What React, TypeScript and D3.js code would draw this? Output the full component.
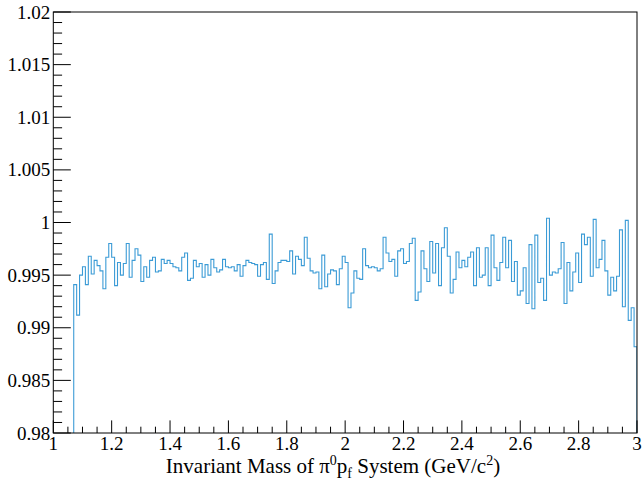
import React from "react";
import * as d3 from "d3";

// Histogram: ratio per 0.01 GeV/c^2 bin, first filled bin starts at 1.07
const binStart = 1.07;
const binWidth = 0.01;
const ratio: number[] = [
  0.9941, 0.9912, 0.995, 0.9958, 0.9941, 0.9968, 0.9951, 0.9964, 0.9959, 0.9954,
  0.9937, 0.9967, 0.998, 0.9967, 0.994, 0.9962, 0.995, 0.9961, 0.998, 0.9948,
  0.9964, 0.9975, 0.9969, 0.9944, 0.9958, 0.9948, 0.9964, 0.9967, 0.9953, 0.9954,
  0.9965, 0.9961, 0.9964, 0.9961, 0.9958, 0.9957, 0.9954, 0.9967, 0.9971, 0.9945,
  0.9947, 0.9964, 0.9958, 0.9961, 0.9948, 0.996, 0.995, 0.9965, 0.9957, 0.9953,
  0.9955, 0.9965, 0.9958, 0.9957, 0.9958, 0.9954, 0.996, 0.9949, 0.9959, 0.9964,
  0.9962, 0.9961, 0.996, 0.9949, 0.996, 0.9962, 0.9946, 0.9989, 0.9942, 0.9954,
  0.9962, 0.9964, 0.9964, 0.9963, 0.9973, 0.9951, 0.9968, 0.9965, 0.9959, 0.9986,
  0.9966, 0.9954, 0.9952, 0.9953, 0.9937, 0.9969, 0.9939, 0.9951, 0.9955, 0.9954,
  0.9941, 0.9956, 0.9968, 0.9962, 0.9919, 0.9933, 0.9954, 0.9947, 0.9946, 0.9975,
  0.9959, 0.9957, 0.9958, 0.9957, 0.9954, 0.9956, 0.9986, 0.9971, 0.9963, 0.9965,
  0.9949, 0.9973, 0.9975, 0.9961, 0.9963, 0.998, 0.9985, 0.9926, 0.9934, 0.9973,
  0.9956, 0.9944, 0.9982, 0.9952, 0.998, 0.994, 0.9976, 0.9995, 0.9968, 0.9933,
  0.9946, 0.9972, 0.9957, 0.9964, 0.9958, 0.9967, 0.9972, 0.994, 0.9976, 0.9948,
  0.995, 0.9976, 0.994, 0.9988, 0.9957, 0.9945, 0.9962, 0.9986, 0.9957, 0.9983,
  0.9944, 0.9963, 0.9931, 0.9935, 0.9957, 0.9923, 0.9979, 0.9918, 0.9988, 0.9943,
  0.9947, 0.9926, 1.0004, 0.995, 0.9953, 0.9952, 0.9956, 0.9981, 0.9923, 0.9962,
  0.9935, 0.9953, 0.9971, 0.9943, 0.9989, 0.9979, 0.9986, 0.9949, 1.0003, 0.9957,
  0.9965, 0.9983, 0.9954, 0.9931, 0.9948, 0.9935, 0.9949, 0.9993, 0.992, 1.0002,
  0.9907, 0.9919, 0.9882,
];

const xTicks = [1, 1.2, 1.4, 1.6, 1.8, 2, 2.2, 2.4, 2.6, 2.8, 3];
const xTickLabels = ["1", "1.2", "1.4", "1.6", "1.8", "2", "2.2", "2.4", "2.6", "2.8", "3"];
const yTicks = [0.98, 0.985, 0.99, 0.995, 1, 1.005, 1.01, 1.015, 1.02];
const yTickLabels = ["0.98", "0.985", "0.99", "0.995", "1", "1.005", "1.01", "1.015", "1.02"];

const W = 644;
const H = 480;
const M = { left: 53.3, right: 7, top: 12, bottom: 47 };
const FONT = "Liberation Serif, Times New Roman, serif";
const LINE = "#3b9bd6";

export default function App() {
  const x = d3.scaleLinear().domain([1, 3]).range([M.left, W - M.right]);
  const y = d3.scaleLinear().domain([0.98, 1.02]).range([H - M.bottom, M.top]);
  const x0 = M.left, x1 = W - M.right, y0 = H - M.bottom, y1 = M.top;

  const pts: [number, number][] = [[binStart, 0.98]];
  ratio.forEach((v, i) => {
    const lo = binStart + i * binWidth;
    pts.push([lo, v]);
    pts.push([lo + binWidth, v]);
  });
  pts.push([binStart + ratio.length * binWidth, 0.98]);
  const path = d3.line<[number, number]>().x((d) => x(d[0])).y((d) => y(d[1]))(pts) || "";

  const xMinor = d3.range(1, 3.0001, 0.05).filter((t) => !xTicks.some((m) => Math.abs(m - t) < 1e-6));
  const yMinor = d3.range(0.98, 1.02001, 0.001).filter((t) => !yTicks.some((m) => Math.abs(m - t) < 1e-7));

  return (
    <svg width={W} height={H} style={{ position: "absolute", left: 0, top: 0, background: "#fff" }}>
      <defs>
        <clipPath id="plot">
          <rect x={x0} y={y1} width={x1 - x0} height={y0 - y1} />
        </clipPath>
      </defs>
      <rect x={0} y={0} width={W} height={H} fill="#fff" />
      <path d={path} fill="none" stroke={LINE} strokeWidth={1.1} clipPath="url(#plot)" />
      <rect x={x0} y={y1} width={x1 - x0} height={y0 - y1} fill="none" stroke="#000" strokeWidth={1} />
      {/* y ticks */}
      {yTicks.map((t, i) => (
        <g key={"yt" + i}>
          <line x1={x0} x2={x0 + 17.5} y1={y(t)} y2={y(t)} stroke="#000" />
          <text x={x0 - 3} y={y(t) + 6.5} textAnchor="end" style={{ fontFamily: FONT, fontSize: 19 }}>
            {yTickLabels[i]}
          </text>
        </g>
      ))}
      {yMinor.map((t, i) => (
        <line key={"ym" + i} x1={x0} x2={x0 + 8.8} y1={y(t)} y2={y(t)} stroke="#000" />
      ))}
      {/* x ticks */}
      {xTicks.map((t, i) => (
        <g key={"xt" + i}>
          <line x1={x(t)} x2={x(t)} y1={y0} y2={y0 - 12.6} stroke="#000" />
          <text x={x(t)} y={y0 + 17} textAnchor="middle" style={{ fontFamily: FONT, fontSize: 19 }}>
            {xTickLabels[i]}
          </text>
        </g>
      ))}
      {xMinor.map((t, i) => (
        <line key={"xm" + i} x1={x(t)} x2={x(t)} y1={y0} y2={y0 - 6.3} stroke="#000" />
      ))}
      <text x={333} y={473} textAnchor="middle" style={{ fontFamily: FONT, fontSize: 21 }}>
        Invariant Mass of π<tspan dy={-8} style={{ fontSize: 14 }}>0</tspan>
        <tspan dy={8}>p</tspan>
        <tspan dy={5} style={{ fontSize: 14 }}>f</tspan>
        <tspan dy={-5}> System (GeV/c</tspan>
        <tspan dy={-8} style={{ fontSize: 14 }}>2</tspan>
        <tspan dy={8}>)</tspan>
      </text>
    </svg>
  );
}
